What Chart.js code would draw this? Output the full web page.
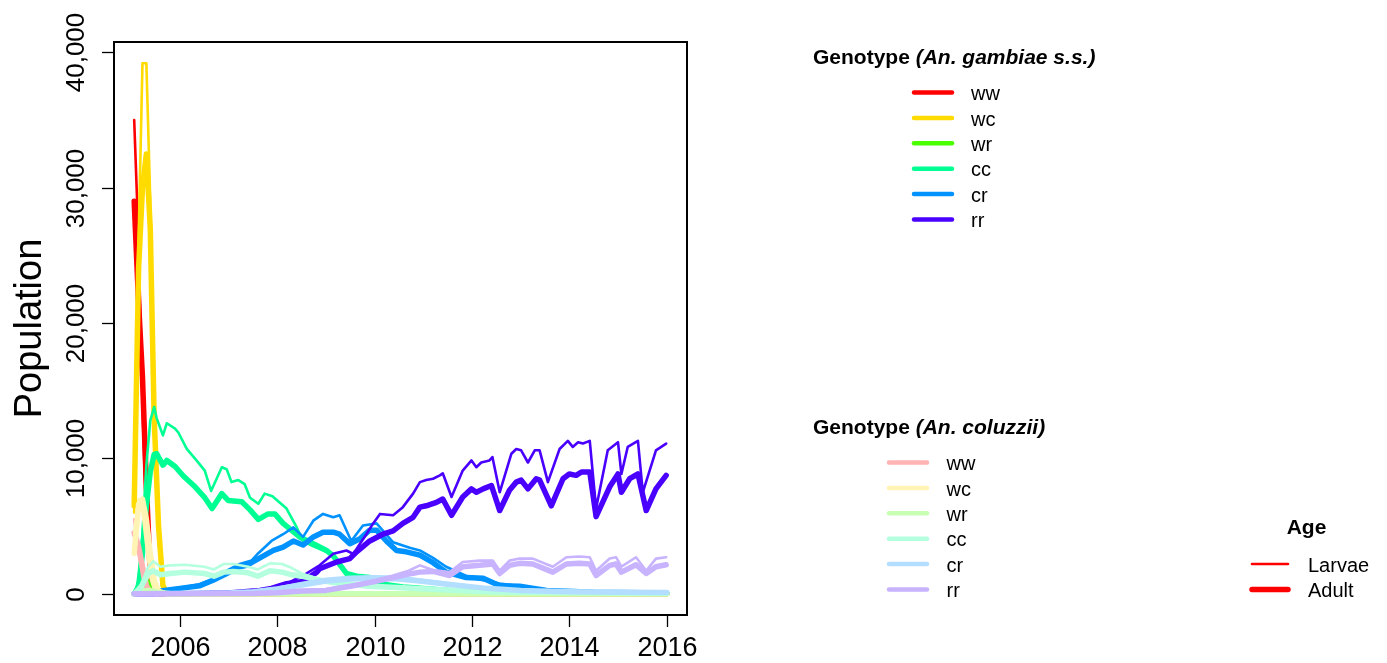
<!DOCTYPE html>
<html><head><meta charset="utf-8">
<script src="https://cdn.jsdelivr.net/npm/chart.js@4.4.1/dist/chart.umd.min.js"></script>
<style>html,body{margin:0;padding:0;background:#fff;}#wrap{position:relative;width:1387px;height:663px;}</style>
</head><body><div id="wrap"><canvas id="c" width="1387" height="663"></canvas></div>
<script>
// ---------- categories / labels ----------
const genotypes = ['ww', 'wc', 'wr', 'cc', 'cr', 'rr'];
const gambiaeColors = ['#FF0000', '#FFDB00', '#49FF00', '#00FF92', '#0092FF', '#4900FF'];
const coluzziiColors = ['#FFB3B3', '#FFF4B3', '#C8FFB3', '#B3FFDE', '#B3DEFF', '#C8B3FF'];
const ageLabels = ['Larvae', 'Adult'];
const xTicks = [2006, 2008, 2010, 2012, 2014, 2016];
const yTicks = [0, 10000, 20000, 30000, 40000];
const yAxisTitle = 'Population';

// ---------- series: [year, population] ----------
// An. gambiae s.s.
const gam_ww_larvae = [[2005.06,35000],[2005.15,26000],[2005.23,14000],[2005.31,5000],[2005.39,1000],[2005.47,200],[2005.56,0],[2016,0]];
const gam_ww_adult  = [[2005.06,29000],[2005.15,21500],[2005.23,16000],[2005.31,8000],[2005.39,1500],[2005.47,300],[2005.56,50],[2005.7,0],[2016,0]];
const gam_wc_larvae = [[2005.06,6000],[2005.15,26000],[2005.23,39200],[2005.31,39200],[2005.39,29000],[2005.47,13500],[2005.56,4000],[2005.65,400],[2005.73,0],[2016,0]];
const gam_wc_adult  = [[2005.06,6500],[2005.15,24000],[2005.23,30000],[2005.31,32500],[2005.39,27000],[2005.47,13000],[2005.56,5000],[2005.65,600],[2005.73,80],[2005.9,0],[2016,0]];
const gam_wr_larvae = [[2005.06,0],[2005.15,400],[2005.23,900],[2005.31,1000],[2005.39,600],[2005.47,250],[2005.56,100],[2005.73,0],[2016,0]];
const gam_wr_adult  = [[2005.06,0],[2005.15,300],[2005.23,800],[2005.31,950],[2005.39,650],[2005.47,300],[2005.56,120],[2005.73,20],[2016,0]];
const gam_cc_larvae = [[2005.06,0],[2005.15,1000],[2005.23,4500],[2005.31,9500],[2005.39,12800],[2005.47,13800],[2005.52,13000],[2005.65,11700],[2005.73,12600],[2005.90,12200],[2005.97,11900],[2006.14,10700],[2006.34,9850],[2006.51,9100],[2006.64,7600],[2006.86,9350],[2006.96,9200],[2007.06,8250],[2007.20,8400],[2007.33,8100],[2007.44,7100],[2007.61,6650],[2007.74,7400],[2007.90,7200],[2008.19,6300],[2008.40,4900],[2008.53,3900],[2008.74,3500],[2009.01,3100],[2009.15,2800],[2009.42,1550],[2009.63,1300],[2009.90,1250],[2010.17,750],[2010.58,520],[2010.93,420],[2011.5,260],[2012,160],[2013,80],[2016,30]];
const gam_cc_adult  = [[2005.06,0],[2005.15,500],[2005.23,3000],[2005.31,6500],[2005.39,9000],[2005.47,10300],[2005.52,10350],[2005.65,9500],[2005.73,9850],[2005.90,9400],[2006.07,8700],[2006.31,7900],[2006.51,7100],[2006.66,6300],[2006.86,7400],[2006.99,6900],[2007.27,6800],[2007.44,6200],[2007.61,5500],[2007.81,5900],[2007.95,5900],[2008.12,5200],[2008.46,4200],[2008.74,3700],[2009.01,3200],[2009.15,2800],[2009.42,1500],[2009.63,1300],[2009.90,1200],[2010.17,700],[2010.58,500],[2010.93,400],[2011.5,250],[2012,150],[2013,80],[2016,30]];
const gam_cr_larvae = [[2005.06,0],[2005.3,150],[2005.6,250],[2006.0,450],[2006.41,700],[2006.68,1100],[2006.96,1700],[2007.23,2200],[2007.47,2450],[2007.61,3000],[2007.88,3900],[2008.12,4400],[2008.33,4900],[2008.53,4200],[2008.74,5400],[2008.94,5900],[2009.15,5650],[2009.28,5800],[2009.52,3900],[2009.76,5050],[2010.04,5200],[2010.38,3800],[2010.72,3400],[2010.93,3200],[2011.20,2650],[2011.47,2000],[2011.95,1200],[2012.57,750],[2013.66,250],[2014.5,130],[2016,50]];
const gam_cr_adult  = [[2005.06,0],[2005.3,100],[2005.6,200],[2006.0,400],[2006.41,600],[2006.68,1000],[2006.96,1500],[2007.23,2000],[2007.37,2100],[2007.57,2500],[2007.92,3200],[2008.12,3450],[2008.33,3900],[2008.53,3600],[2008.74,4200],[2008.94,4550],[2009.15,4550],[2009.28,4400],[2009.49,3700],[2009.69,4050],[2009.90,4700],[2010.04,4700],[2010.24,3900],[2010.45,3200],[2010.65,3100],[2010.93,2850],[2011.20,2300],[2011.47,1600],[2011.88,1200],[2012.23,1150],[2012.57,600],[2012.98,550],[2013.53,250],[2014.5,120],[2016,50]];
const gam_rr_larvae = [[2005.06,0],[2006,20],[2007,80],[2007.5,200],[2007.9,350],[2008.19,750],[2008.53,1350],[2008.87,2100],[2009.15,2950],[2009.42,3200],[2009.56,2950],[2009.83,4400],[2009.97,5200],[2010.11,5900],[2010.38,5800],[2010.58,6400],[2010.79,7400],[2010.93,8250],[2011.06,8400],[2011.20,8500],[2011.34,8750],[2011.40,8900],[2011.58,7150],[2011.81,9100],[2011.99,9850],[2012.09,9350],[2012.19,9700],[2012.36,9850],[2012.42,10100],[2012.57,7500],[2012.81,10350],[2012.91,10700],[2013.01,10600],[2013.15,9700],[2013.29,10600],[2013.39,10600],[2013.56,8250],[2013.80,10700],[2013.97,11300],[2014.07,10850],[2014.18,11200],[2014.28,11100],[2014.42,11300],[2014.55,6300],[2014.79,10600],[2015.00,11200],[2015.07,8850],[2015.20,10850],[2015.41,11300],[2015.51,7500],[2015.78,10600],[2015.99,11100]];
const gam_rr_adult  = [[2005.06,0],[2006,10],[2007,60],[2007.64,250],[2007.88,400],[2008.19,750],[2008.53,900],[2008.81,1600],[2008.87,1850],[2009.22,2350],[2009.49,2600],[2009.63,3100],[2009.90,3900],[2010.17,4400],[2010.38,4650],[2010.58,5200],[2010.79,5650],[2010.93,6400],[2011.06,6500],[2011.27,6750],[2011.40,7000],[2011.58,5800],[2011.81,7150],[2011.99,7750],[2012.09,7500],[2012.23,7750],[2012.40,8000],[2012.57,6150],[2012.77,7650],[2012.91,8250],[2013.01,8400],[2013.15,7750],[2013.32,8500],[2013.39,8400],[2013.63,6500],[2013.87,8500],[2014.00,8850],[2014.14,8750],[2014.25,9000],[2014.42,9000],[2014.55,5700],[2014.83,7900],[2015.00,8850],[2015.07,7500],[2015.24,8500],[2015.41,8850],[2015.58,6150],[2015.78,7750],[2015.99,8750]];
// An. coluzzii
const col_ww_larvae = [[2005.06,5500],[2005.15,3000],[2005.23,1200],[2005.31,300],[2005.39,50],[2005.5,0],[2016,0]];
const col_ww_adult  = [[2005.06,4500],[2005.15,3500],[2005.23,2000],[2005.31,600],[2005.39,100],[2005.5,0],[2016,0]];
const col_wc_larvae = [[2005.06,4500],[2005.15,7000],[2005.23,6000],[2005.31,3500],[2005.39,1200],[2005.47,300],[2005.56,0],[2016,0]];
const col_wc_adult  = [[2005.06,3000],[2005.15,6600],[2005.23,7000],[2005.31,5500],[2005.39,3000],[2005.47,1000],[2005.56,200],[2005.7,0],[2016,0]];
const col_wr_larvae = [[2005.06,0],[2005.23,250],[2005.39,300],[2005.56,100],[2005.8,0],[2016,0]];
const col_wr_adult  = [[2005.06,0],[2005.23,200],[2005.39,250],[2005.56,100],[2005.8,0],[2016,0]];
const col_cc_larvae = [[2005.06,0],[2005.2,700],[2005.35,2000],[2005.45,2400],[2005.6,2000],[2005.8,2100],[2006.1,2150],[2006.5,2000],[2006.7,1800],[2006.9,2200],[2007.1,2200],[2007.4,2000],[2007.6,1800],[2007.85,2250],[2008.1,2200],[2008.3,1900],[2008.5,1500],[2008.87,1100],[2009.22,850],[2009.9,600],[2010.58,500],[2011.5,300],[2012.5,150],[2016,50]];
const col_cc_adult  = [[2005.06,0],[2005.2,500],[2005.35,1500],[2005.45,1700],[2005.6,1400],[2005.8,1500],[2006.1,1600],[2006.5,1500],[2006.7,1300],[2006.9,1600],[2007.1,1650],[2007.4,1550],[2007.6,1300],[2007.85,1700],[2008.1,1600],[2008.3,1400],[2008.5,1300],[2008.87,1000],[2009.22,800],[2009.9,550],[2010.58,450],[2011.5,280],[2012.5,140],[2016,40]];
const col_cr_larvae = [[2005.06,0],[2007.0,80],[2007.5,200],[2008.0,450],[2008.5,800],[2009.0,1100],[2009.5,1250],[2010.0,1300],[2010.5,1250],[2010.93,1050],[2011.5,800],[2012.3,450],[2013.0,300],[2014.0,170],[2015,120],[2016,100]];
const col_cr_adult  = [[2005.06,0],[2007.0,60],[2007.5,150],[2008.0,350],[2008.5,650],[2009.0,950],[2009.5,1100],[2010.0,1150],[2010.5,1100],[2010.93,950],[2011.5,700],[2012.3,400],[2013.0,250],[2014.0,150],[2015,110],[2016,90]];
const col_rr_larvae = [[2005.06,0],[2007.5,20],[2008.0,100],[2008.5,250],[2009.0,350],[2009.5,650],[2010.0,1000],[2010.38,1350],[2010.7,1700],[2010.93,2100],[2011.20,1750],[2011.54,1600],[2011.81,2350],[2012.16,2450],[2012.43,2450],[2012.57,1700],[2012.77,2450],[2012.98,2600],[2013.25,2600],[2013.66,2000],[2013.94,2700],[2014.21,2750],[2014.42,2700],[2014.55,1700],[2014.83,2600],[2014.96,2700],[2015.07,2000],[2015.37,2700],[2015.58,1700],[2015.78,2600],[2015.99,2700]];
const col_rr_adult  = [[2005.06,0],[2007.5,15],[2008.0,80],[2008.5,200],[2009.0,250],[2009.5,550],[2010.0,900],[2010.38,1200],[2010.7,1450],[2010.93,1600],[2011.20,1650],[2011.54,1350],[2011.81,2000],[2012.16,2100],[2012.43,2200],[2012.57,1500],[2012.77,2100],[2012.98,2250],[2013.25,2200],[2013.66,1600],[2013.94,2200],[2014.21,2250],[2014.42,2200],[2014.55,1350],[2014.83,2100],[2014.96,2200],[2015.07,1600],[2015.37,2150],[2015.58,1500],[2015.78,2000],[2015.99,2150]];

const gambiaeSeries = [
  [gam_ww_larvae, gam_ww_adult], [gam_wc_larvae, gam_wc_adult], [gam_wr_larvae, gam_wr_adult],
  [gam_cc_larvae, gam_cc_adult], [gam_cr_larvae, gam_cr_adult], [gam_rr_larvae, gam_rr_adult]
];
const coluzziiSeries = [
  [col_ww_larvae, col_ww_adult], [col_wc_larvae, col_wc_adult], [col_wr_larvae, col_wr_adult],
  [col_cc_larvae, col_cc_adult], [col_cr_larvae, col_cr_adult], [col_rr_larvae, col_rr_adult]
];

// ---------- build datasets ----------
const FONT = '"Liberation Sans", Arial, Helvetica, sans-serif';
const LARVAE_W = 2.6, ADULT_W = 5.5;
const datasets = [];
function addSpecies(series, colors, tag) {
  series.forEach((pair, i) => {
    pair.forEach((arr, a) => {
      datasets.push({
        label: tag + ' ' + genotypes[i] + ' ' + ageLabels[a],
        data: arr.map(p => ({ x: p[0], y: p[1] })),
        borderColor: colors[i],
        backgroundColor: colors[i],
        borderWidth: a === 0 ? LARVAE_W : ADULT_W,
        pointRadius: 0,
        tension: 0,
        fill: false,
        borderCapStyle: 'round',
        borderJoinStyle: 'round'
      });
    });
  });
}
addSpecies(gambiaeSeries, gambiaeColors, 'gambiae');
addSpecies(coluzziiSeries, coluzziiColors, 'coluzzii');
// later series drawn on top (as in sequential plotting)
datasets.forEach((d, k) => { d.order = datasets.length - k; });

// ---------- axes, box and legends ----------
const decor = {
  id: 'decor',
  afterDraw(chart) {
    const ctx = chart.ctx, ca = chart.chartArea;
    const xs = chart.scales.x, ys = chart.scales.y;
    ctx.save();
    ctx.strokeStyle = '#000';
    ctx.fillStyle = '#000';
    // box
    ctx.lineWidth = 2;
    ctx.strokeRect(ca.left, ca.top, ca.right - ca.left, ca.bottom - ca.top);
    // x ticks + labels
    ctx.lineWidth = 1.3;
    ctx.font = '27px ' + FONT;
    ctx.textAlign = 'center';
    ctx.textBaseline = 'alphabetic';
    xTicks.forEach(v => {
      const px = Math.round(xs.getPixelForValue(v)) + 0.5;
      ctx.beginPath(); ctx.moveTo(px, ca.bottom); ctx.lineTo(px, ca.bottom + 12); ctx.stroke();
      ctx.fillText(String(v), px, 656);
    });
    // y ticks + rotated labels
    ctx.font = '26px ' + FONT;
    yTicks.forEach(v => {
      const py = Math.round(ys.getPixelForValue(v)) + 0.5;
      ctx.beginPath(); ctx.moveTo(ca.left - 12, py); ctx.lineTo(ca.left, py); ctx.stroke();
      ctx.save();
      ctx.translate(84, py);
      ctx.rotate(-Math.PI / 2);
      ctx.fillText(v.toLocaleString('en-US'), 0, 0);
      ctx.restore();
    });
    // y title
    ctx.save();
    ctx.font = '38px ' + FONT;
    ctx.translate(41, (ca.top + ca.bottom) / 2);
    ctx.rotate(-Math.PI / 2);
    ctx.fillText(yAxisTitle, 0, 0);
    ctx.restore();

    // legends
    function title(x, y, plain, ital) {
      ctx.textAlign = 'left';
      ctx.font = 'bold 21px ' + FONT;
      ctx.fillText(plain, x, y);
      const w = ctx.measureText(plain).width;
      ctx.font = 'italic bold 21px ' + FONT;
      ctx.fillText(ital, x + w, y);
    }
    function entries(colors, x1, x2, xt, y0, dy, lw) {
      colors.forEach((c, i) => {
        const y = y0 + i * dy;
        ctx.strokeStyle = c; ctx.lineWidth = lw; ctx.lineCap = 'round';
        ctx.beginPath(); ctx.moveTo(x1, y); ctx.lineTo(x2, y); ctx.stroke();
        ctx.fillStyle = '#000';
        ctx.font = '20px ' + FONT;
        ctx.textAlign = 'left';
        ctx.fillText(genotypes[i], xt, y + 7.7);
      });
    }
    title(813, 64, 'Genotype ', '(An. gambiae s.s.)');
    entries(gambiaeColors, 914, 952, 971, 92.5, 25.4, 4.5);
    title(813, 434, 'Genotype ', '(An. coluzzii)');
    entries(coluzziiColors, 889, 927, 946.5, 462.5, 25.4, 4.5);

    // age legend
    ctx.fillStyle = '#000';
    ctx.textAlign = 'center';
    ctx.font = 'bold 21px ' + FONT;
    ctx.fillText('Age', 1306.5, 534);
    const ageW = [LARVAE_W, ADULT_W];
    ageLabels.forEach((lab, a) => {
      const y = 564 + a * 25.4;
      ctx.strokeStyle = '#FF0000'; ctx.lineWidth = ageW[a]; ctx.lineCap = 'round';
      ctx.beginPath(); ctx.moveTo(1252, y); ctx.lineTo(1288, y); ctx.stroke();
      ctx.fillStyle = '#000';
      ctx.font = '20px ' + FONT;
      ctx.textAlign = 'left';
      ctx.fillText(lab, 1308, y + 7.7);
    });
    ctx.restore();
  }
};

new Chart(document.getElementById('c'), {
  type: 'line',
  data: { datasets },
  options: {
    responsive: false,
    animation: false,
    devicePixelRatio: 1,
    layout: { padding: { left: 114, top: 42, right: 700, bottom: 48 } },
    plugins: { legend: { display: false }, tooltip: { enabled: false } },
    scales: {
      x: { type: 'linear', min: 2004.645, max: 2016.418, display: false },
      y: { type: 'linear', min: -1568, max: 40768, display: false }
    }
  },
  plugins: [decor]
});
</script>
</body></html>
